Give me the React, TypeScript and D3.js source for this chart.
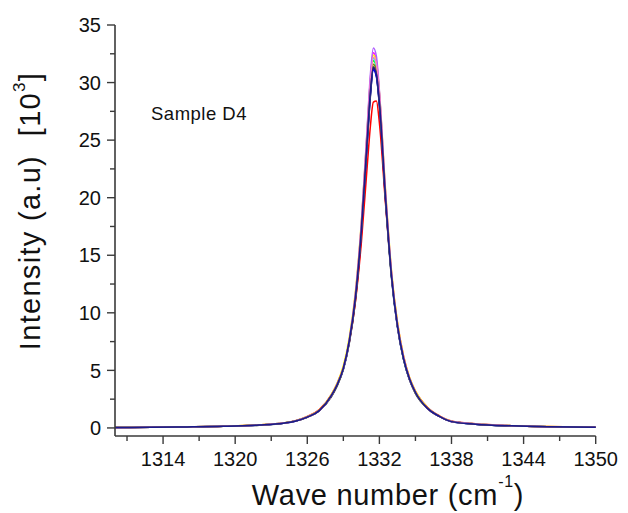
import React from "react";
import * as d3 from "d3";

const waveNumbers = [1310, 1313, 1316, 1319, 1322, 1324, 1325, 1326, 1327, 1328, 1328.5, 1329, 1329.5, 1330, 1330.5, 1331, 1331.25, 1331.5, 1331.75, 1332, 1332.5, 1333, 1333.5, 1334, 1334.5, 1335, 1336, 1337, 1338, 1340, 1343, 1346, 1350];

const sBlack = [0.04, 0.06, 0.09, 0.14, 0.24, 0.41, 0.6, 0.93, 1.5, 2.7, 3.7, 5.1, 7.4, 11.0, 16.8, 24.9, 28.8, 31.2, 30.6, 28.0, 19.9, 13.1, 8.8, 6.0, 4.2, 3.0, 1.7, 1.0, 0.56, 0.33, 0.18, 0.1, 0.06];
const sRed = [0.05, 0.07, 0.1, 0.16, 0.27, 0.44, 0.63, 1.0, 1.6, 2.9, 3.9, 5.3, 7.5, 10.9, 16.1, 22.9, 26.2, 28.3, 28.4, 26.5, 19.6, 13.5, 9.2, 6.3, 4.4, 3.2, 1.8, 1.05, 0.6, 0.36, 0.2, 0.12, 0.07];
const sGreen = [0.04, 0.06, 0.09, 0.14, 0.26, 0.42, 0.6, 0.95, 1.5, 2.8, 3.8, 5.2, 7.6, 11.4, 17.4, 25.6, 29.6, 31.9, 31.3, 28.7, 20.4, 13.4, 8.9, 6.1, 4.3, 3.1, 1.7, 1.0, 0.55, 0.34, 0.19, 0.11, 0.06];
const sBlue = [0.04, 0.06, 0.08, 0.14, 0.25, 0.41, 0.59, 0.94, 1.5, 2.8, 3.8, 5.1, 7.5, 11.2, 17.0, 25.0, 28.9, 31.1, 30.5, 28.1, 20.0, 13.3, 8.8, 6.0, 4.2, 3.1, 1.7, 1.0, 0.54, 0.33, 0.18, 0.1, 0.06];
const sCyan = [0.05, 0.06, 0.09, 0.15, 0.26, 0.43, 0.61, 0.96, 1.5, 2.8, 3.8, 5.2, 7.7, 11.5, 17.5, 25.8, 29.9, 32.1, 31.4, 28.8, 20.4, 13.5, 9.0, 6.1, 4.3, 3.1, 1.7, 1.0, 0.56, 0.34, 0.19, 0.11, 0.06];
const sMagenta = [0.04, 0.06, 0.09, 0.14, 0.26, 0.42, 0.6, 0.95, 1.5, 2.8, 3.8, 5.2, 7.7, 11.6, 17.7, 26.1, 30.3, 32.6, 31.9, 29.1, 20.6, 13.6, 9.0, 6.2, 4.3, 3.1, 1.7, 1.0, 0.55, 0.34, 0.19, 0.11, 0.06];
const sYellow = [0.05, 0.07, 0.1, 0.15, 0.27, 0.43, 0.61, 0.97, 1.55, 2.9, 3.9, 5.4, 7.9, 11.8, 17.9, 26.2, 30.2, 32.4, 31.8, 29.2, 20.9, 13.8, 9.2, 6.3, 4.4, 3.2, 1.75, 1.02, 0.57, 0.35, 0.2, 0.12, 0.07];
const sOlive = [0.04, 0.06, 0.09, 0.14, 0.26, 0.42, 0.6, 0.95, 1.5, 2.8, 3.8, 5.2, 7.6, 11.3, 17.3, 25.5, 29.5, 31.6, 31.0, 28.5, 20.3, 13.4, 8.9, 6.1, 4.3, 3.1, 1.7, 1.0, 0.55, 0.34, 0.19, 0.11, 0.06];
const sViolet = [0.04, 0.06, 0.09, 0.14, 0.26, 0.42, 0.6, 0.95, 1.5, 2.8, 3.8, 5.2, 7.7, 11.6, 17.8, 26.4, 30.7, 33.0, 32.3, 29.3, 20.7, 13.6, 9.0, 6.2, 4.3, 3.1, 1.7, 1.0, 0.55, 0.34, 0.19, 0.11, 0.06];
const sPink = [0.04, 0.06, 0.09, 0.14, 0.26, 0.42, 0.6, 0.96, 1.5, 2.8, 3.8, 5.2, 7.6, 11.5, 17.6, 25.9, 30.0, 32.2, 31.6, 29.0, 20.6, 13.6, 9.0, 6.2, 4.3, 3.1, 1.7, 1.0, 0.56, 0.34, 0.19, 0.11, 0.06];
const sGray = [0.04, 0.06, 0.09, 0.14, 0.25, 0.41, 0.6, 0.94, 1.5, 2.8, 3.7, 5.1, 7.5, 11.2, 17.1, 25.2, 29.1, 31.4, 30.8, 28.3, 20.1, 13.3, 8.9, 6.0, 4.2, 3.0, 1.7, 1.0, 0.55, 0.33, 0.18, 0.1, 0.06];
const sNavy = [0.04, 0.06, 0.09, 0.14, 0.25, 0.41, 0.59, 0.94, 1.5, 2.8, 3.8, 5.2, 7.6, 11.3, 17.2, 25.3, 29.2, 31.3, 30.7, 28.3, 20.2, 13.3, 8.9, 6.1, 4.3, 3.1, 1.7, 1.0, 0.55, 0.33, 0.18, 0.1, 0.06];

const seriesValues = [sBlack, sRed, sGreen, sBlue, sCyan, sMagenta, sYellow, sOlive, sViolet, sPink, sGray, sNavy];
const seriesColors = ["#000000", "#FF0000", "#00FF00", "#0000FF", "#00FFFF", "#FF00FF", "#FFFF00", "#808000", "#B060FF", "#FF80C0", "#606060", "#1a1a8c"];

const xMajorTicks = [1314, 1320, 1326, 1332, 1338, 1344, 1350];
const xMinorTicks = [1311, 1317, 1323, 1329, 1335, 1341, 1347];
const yMajorTicks = [0, 5, 10, 15, 20, 25, 30, 35];
const yMinorTicks = [2.5, 7.5, 12.5, 17.5, 22.5, 27.5, 32.5];

const sampleLabel = "Sample D4";

export default function App() {
  const W = 628;
  const H = 513;
  const x = d3.scaleLinear().domain([1310, 1350]).range([115, 595.7]);
  const y = d3.scaleLinear().domain([-0.7, 35]).range([436, 25]);
  const line = d3
    .line<number>()
    .x((_, i) => x(waveNumbers[i]))
    .y((d) => y(d))
    .curve(d3.curveMonotoneX);

  const axisColor = "#3a3a3a";
  const font = "'Liberation Sans', Arial, sans-serif";
  const [x0, x1] = x.range();
  const [yBot, yTop] = y.range();

  return (
    <svg
      width={W}
      height={H}
      style={{ position: "absolute", left: 0, top: 0, background: "#fff" }}
      fontFamily={font}
    >
      <rect x={0} y={0} width={W} height={H} fill="#fff" />
      {seriesValues.map((vals, i) => (
        <path
          key={i}
          d={line(vals) || ""}
          fill="none"
          stroke={seriesColors[i]}
          strokeWidth={1.5}
          strokeLinejoin="round"
        />
      ))}
      {/* axes */}
      <line x1={x0} x2={x0} y1={yTop} y2={yBot} stroke={axisColor} strokeWidth={1.6} />
      <line x1={x0} x2={x1} y1={yBot} y2={yBot} stroke={axisColor} strokeWidth={1.6} />
      {yMajorTicks.map((t) => (
        <g key={"ym" + t}>
          <line x1={x0 - 8} x2={x0} y1={y(t)} y2={y(t)} stroke={axisColor} strokeWidth={1.4} />
          <text x={x0 - 14} y={y(t)} dy="0.36em" textAnchor="end" fontSize={20} fill="#111">
            {t}
          </text>
        </g>
      ))}
      {yMinorTicks.map((t) => (
        <line key={"yn" + t} x1={x0 - 5} x2={x0} y1={y(t)} y2={y(t)} stroke={axisColor} strokeWidth={1.4} />
      ))}
      {xMajorTicks.map((t) => (
        <g key={"xm" + t}>
          <line x1={x(t)} x2={x(t)} y1={yBot} y2={yBot + 8} stroke={axisColor} strokeWidth={1.4} />
          <text x={x(t)} y={466} textAnchor="middle" fontSize={20} fill="#111">
            {t}
          </text>
        </g>
      ))}
      {xMinorTicks.map((t) => (
        <line key={"xn" + t} x1={x(t)} x2={x(t)} y1={yBot} y2={yBot + 5} stroke={axisColor} strokeWidth={1.4} />
      ))}
      {/* titles */}
      <text x={388} y={505} textAnchor="middle" fontSize={29} letterSpacing={0.7} fill="#111">
        Wave number (cm
        <tspan fontSize={16} dy={-18}>-1</tspan>
        <tspan dy={18}>)</tspan>
      </text>
      <text
        transform={`translate(40, 211) rotate(-90)`}
        textAnchor="middle"
        fontSize={29}
        letterSpacing={1.3}
        fill="#111"
        style={{ whiteSpace: "pre" }}
      >
        {"Intensity (a.u)  [10"}
        <tspan fontSize={17} dy={-15}>3</tspan>
        <tspan dy={15}>]</tspan>
      </text>
      <text x={151} y={120} fontSize={18.5} letterSpacing={0.5} fill="#111">
        {sampleLabel}
      </text>
    </svg>
  );
}
